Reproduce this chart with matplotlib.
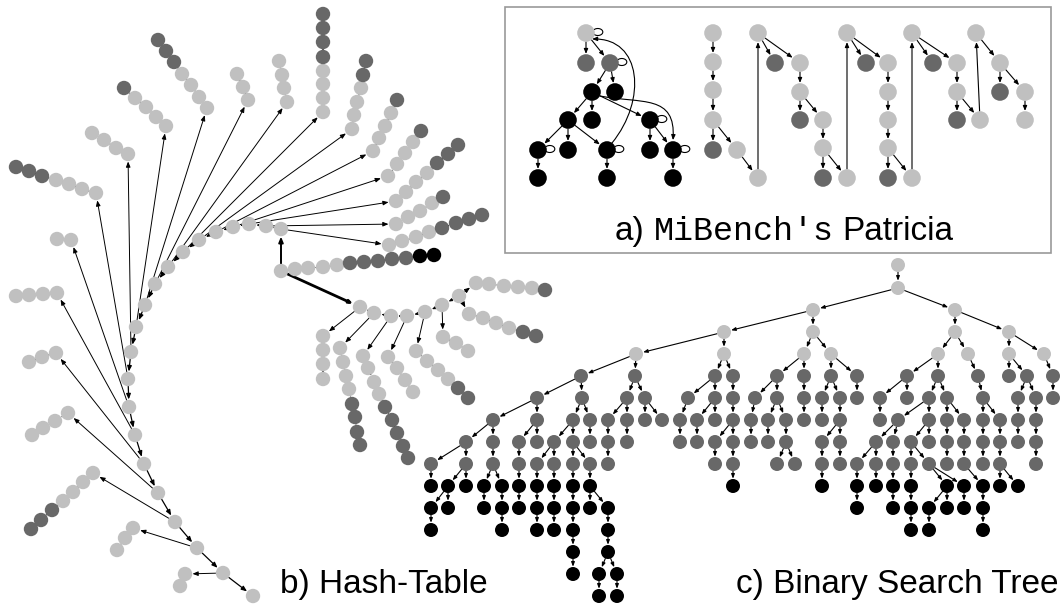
import numpy as np
import matplotlib
matplotlib.use('Agg')
import matplotlib.pyplot as plt
from matplotlib.patches import FancyArrowPatch, Rectangle, Arc
from matplotlib.path import Path

SHADE = {'L': '#c0c0c0', 'D': '#686868', 'K': '#000000'}

# ---------------- b) hash table ----------------
spine_x = [253, 223, 197, 175, 158, 144, 135, 129, 128, 131, 136, 145, 155, 168, 183, 199, 216, 233, 249, 266, 281]
spine_y = [596, 573, 548, 522, 493, 464, 435, 407, 379, 352, 327, 305, 284, 267, 252, 240, 232, 227, 224, 226, 229]

# bucket chains, listed from the node nearest the spine outwards; chain k hangs off spine node k+1
bucket_pts = [
    [(185, 574), (180, 586)],
    [(133, 528), (125, 538), (117, 550)],
    [(93, 473), (83, 482), (73, 492), (63, 501), (52, 510), (41, 520), (31, 529)],
    [(68, 413), (55, 421), (43, 428), (32, 435)],
    [(56, 353), (42, 357), (29, 362)],
    [(57, 293), (43, 294), (29, 295), (16, 296)],
    [(71, 240), (57, 239)],
    [(96, 193), (82, 189), (69, 184), (56, 180), (42, 176), (29, 171), (16, 167)],
    [(128, 154), (116, 148), (104, 140), (92, 133)],
    [(166, 126), (156, 117), (146, 107), (135, 98), (124, 88)],
    [(207, 108), (199, 97), (191, 85), (182, 74), (174, 62), (166, 51), (158, 40)],
    [(248, 100), (243, 87), (237, 74)],
    [(287, 102), (284, 88), (282, 75), (279, 61)],
    [(323, 112), (323, 98), (323, 84), (323, 71), (323, 57), (323, 42), (323, 28), (323, 14)],
    [(352, 129), (354, 115), (357, 102), (361, 88), (363, 75), (366, 61)],
    [(373, 151), (379, 138), (385, 126), (391, 113), (397, 100)],
    [(388, 176), (397, 164), (405, 153), (413, 142), (421, 131)],
    [(396, 201), (406, 192), (416, 182), (427, 173), (437, 163), (448, 154), (458, 145)],
    [(396, 224), (408, 217), (420, 211), (432, 203), (443, 197)],
    [(389, 245), (402, 241), (416, 237), (429, 232), (442, 228), (456, 223), (469, 219), (482, 215)],
]
bucket_shades = ['LL', 'LLL', 'LLLLDDD', 'LLLL', 'LLL', 'LLLL', 'LL', 'LLLLDDD', 'LLLL', 'LLLLD',
                 'LLLLDDD', 'LLL', 'LLLL', 'LLLLDDDD', 'LLLLDD', 'LLLLD', 'LLLLD', 'LLLLDDD', 'LLLLD',
                 'LLLLDDDD']

hub = (281, 271)
hub_chain = [(295, 269), (308, 268), (323, 267), (337, 265), (350, 263), (364, 262), (378, 261),
             (392, 259), (406, 258), (420, 256), (434, 255)]
hub_shades = 'LLLLDDDDDKK'

sub_x = [360, 374, 391, 407, 425, 442, 459]
sub_y = [307, 313, 316, 316, 312, 305, 296]
sub_attach = [0, 1, 2, 3, 4, 5, 6, 6]
sub_pts = [
    [(323, 336), (323, 350), (323, 364), (323, 379)],
    [(340, 348), (343, 362), (346, 376), (349, 389), (352, 404), (355, 417), (357, 432), (360, 445)],
    [(363, 356), (368, 368), (374, 382), (379, 394), (385, 407), (392, 420), (397, 433), (403, 446), (408, 458)],
    [(388, 357), (397, 368), (405, 380), (413, 392)],
    [(416, 351), (427, 361), (438, 370), (448, 379), (458, 388), (468, 398)],
    [(443, 337), (456, 343), (468, 351)],
    [(469, 314), (483, 318), (496, 323), (509, 328), (523, 332), (536, 336)],
    [(476, 283), (489, 284), (504, 286), (518, 287), (532, 288), (545, 290)],
]
sub_shades = ['LLLL', 'LLLLDDDD', 'LLLLDDDDD', 'LLLL', 'LLLLDD', 'LLL', 'LLLLDD', 'LLLLLD']

# ---------------- c) binary search tree ----------------
bst_level_y = [265, 288, 310, 332, 354, 376, 398, 420, 442, 464, 486, 508, 530, 552, 574, 596]
bst_level_shade = 'LLLLLDDDDDKKKKKK'
# (x, level, parent x on the level above)
bst_nodes = [
    (898, 0, None),
    (898, 1, 898),
    (813, 2, 898), (955, 2, 898),
    (724, 3, 813), (813, 3, 813), (955, 3, 955), (1009, 3, 955),
    (636, 4, 724), (724, 4, 724), (804, 4, 813), (831, 4, 813), (938, 4, 955), (968, 4, 955),
    (1009, 4, 1009), (1044, 4, 1009),
    (581, 5, 636), (635, 5, 636), (715, 5, 724), (733, 5, 724), (777, 5, 804), (804, 5, 804),
    (831, 5, 831), (857, 5, 831), (907, 5, 938), (938, 5, 938), (978, 5, 968), (1009, 5, 1009),
    (1027, 5, 1009), (1053, 5, 1044),
    (537, 6, 581), (582, 6, 581), (627, 6, 635), (645, 6, 635), (688, 6, 715), (715, 6, 715),
    (733, 6, 733), (755, 6, 777), (777, 6, 777), (804, 6, 804), (822, 6, 831), (840, 6, 831),
    (857, 6, 857), (880, 6, 907), (907, 6, 907), (929, 6, 938), (947, 6, 938), (983, 6, 978),
    (1018, 6, 1027), (1036, 6, 1027), (1053, 6, 1053),
    (493, 7, 537), (537, 7, 537), (573, 7, 582), (590, 7, 582), (608, 7, 627), (627, 7, 627),
    (645, 7, 645), (662, 7, 645), (680, 7, 688), (697, 7, 715), (715, 7, 715), (733, 7, 733),
    (751, 7, 755), (768, 7, 777), (786, 7, 777), (804, 7, 804), (822, 7, 822), (840, 7, 840),
    (880, 7, 880), (898, 7, 929), (929, 7, 929), (947, 7, 947), (964, 7, 947), (983, 7, 983),
    (1000, 7, 983), (1018, 7, 1018), (1036, 7, 1036),
    (466, 8, 493), (493, 8, 493), (519, 8, 537), (537, 8, 537), (554, 8, 573), (573, 8, 573),
    (590, 8, 590), (608, 8, 608), (627, 8, 627), (680, 8, 680), (697, 8, 697), (715, 8, 733),
    (733, 8, 733), (751, 8, 751), (768, 8, 768), (786, 8, 786), (822, 8, 840), (840, 8, 840),
    (876, 8, 898), (893, 8, 898), (911, 8, 929), (929, 8, 929), (947, 8, 947), (964, 8, 964),
    (983, 8, 983), (1000, 8, 1000), (1018, 8, 1018), (1036, 8, 1036),
    (431, 9, 466), (466, 9, 466), (493, 9, 493), (519, 9, 519), (537, 9, 554), (554, 9, 554),
    (573, 9, 573), (590, 9, 573), (608, 9, 608), (715, 9, 715), (733, 9, 733), (777, 9, 786),
    (795, 9, 786), (822, 9, 822), (840, 9, 840), (857, 9, 876), (876, 9, 876), (893, 9, 893),
    (911, 9, 911), (929, 9, 911), (947, 9, 947), (964, 9, 964), (983, 9, 983), (1000, 9, 1000),
    (1036, 9, 1036),
    (431, 10, 431), (448, 10, 466), (466, 10, 466), (484, 10, 493), (502, 10, 493), (519, 10, 519),
    (537, 10, 537), (554, 10, 554), (573, 10, 573), (590, 10, 590), (733, 10, 733), (822, 10, 822),
    (857, 10, 857), (876, 10, 876), (893, 10, 893), (911, 10, 911), (947, 10, 929), (964, 10, 929),
    (983, 10, 964), (1000, 10, 1000), (1018, 10, 1000),
    (431, 11, 448), (448, 11, 448), (484, 11, 484), (502, 11, 502), (519, 11, 519), (537, 11, 537),
    (554, 11, 554), (573, 11, 573), (590, 11, 590), (608, 11, 590), (857, 11, 857), (893, 11, 893),
    (911, 11, 911), (929, 11, 947), (947, 11, 947), (964, 11, 964), (983, 11, 983),
    (431, 12, 431), (502, 12, 502), (537, 12, 537), (554, 12, 554), (573, 12, 573), (608, 12, 608),
    (911, 12, 911), (929, 12, 929), (983, 12, 983),
    (573, 13, 573), (608, 13, 608),
    (573, 14, 573), (599, 14, 608), (617, 14, 608),
    (599, 15, 599), (617, 15, 617),
]

# ---------------- a) MiBench's Patricia ----------------
pat_x = [586, 586, 610, 592, 615, 568, 592, 650, 538, 568, 607, 650, 673, 538, 607, 673,
         713, 713, 713, 713, 713, 737,
         758, 758, 775, 800, 800, 800, 823, 823, 823, 847, 847,
         866, 888, 888, 888, 888, 888, 912, 912,
         933, 957, 957, 957, 980, 976, 1000, 1000, 1025, 1025]
pat_y = [33, 63, 63, 92, 92, 120, 120, 120, 150, 150, 150, 150, 150, 178, 178, 178,
         33, 62, 90, 120, 150, 150,
         178, 33, 63, 63, 92, 120, 120, 148, 178, 178, 33,
         63, 63, 92, 120, 148, 178, 178, 33,
         63, 63, 92, 120, 120, 33, 63, 92, 92, 120]
pat_shade = 'LDDKKKKKKKKKKKKK' + 'LLLLDL' + 'LLDLLDLLDLL' + 'DLLLLDLL' + 'DLLDLLLDLL'
pat_edges = [(0, 1), (0, 2), (2, 3), (2, 4), (3, 5), (3, 6), (3, 7), (5, 8), (5, 9), (5, 10),
             (7, 11), (7, 12), (8, 13), (10, 14), (12, 15),
             (16, 17), (17, 18), (18, 19), (19, 20), (19, 21), (21, 22), (22, 23),
             (23, 24), (23, 25), (25, 26), (26, 27), (26, 28), (28, 29), (29, 30), (29, 31), (31, 32),
             (32, 33), (32, 34), (34, 35), (35, 36), (36, 37), (37, 38), (37, 39), (39, 40),
             (40, 41), (40, 42), (42, 43), (43, 44), (43, 45), (45, 46), (46, 47), (47, 48),
             (47, 49), (49, 50)]
pat_curved = [(10, 0), (3, 12)]
pat_loops = [0, 2, 7, 8, 10, 12]


def edge(ax, p, q, r, lw=0.7, head=True, hs=1.0):
    p = np.asarray(p, float)
    q = np.asarray(q, float)
    d = q - p
    u = d / np.hypot(*d)
    a, b = p + u * r, q - u * (r + 0.3)
    style = '-|>,head_length=%.2f,head_width=%.2f' % (0.32 * hs, 0.13 * hs) if head else '-'
    ax.add_patch(FancyArrowPatch(a, b, arrowstyle=style, mutation_scale=10, lw=lw,
                                 color='black', shrinkA=0, shrinkB=0, zorder=2))


def nodes(ax, pts, shades, d):
    pts = np.asarray(pts, float)
    ax.scatter(pts[:, 0], pts[:, 1], s=(d * 0.72) ** 2, c=[SHADE[s] for s in shades],
               edgecolors='none', zorder=3)


fig = plt.figure(figsize=(10.64, 6.06), dpi=100)
ax = fig.add_axes([0, 0, 1, 1])
ax.set_xlim(0, 1064)
ax.set_ylim(606, 0)
ax.axis('off')

# hash table
R1 = 7.2
spine = list(zip(spine_x, spine_y))
for i in range(len(spine) - 1):
    edge(ax, spine[i + 1], spine[i], R1, lw=0.9)
all_pts, all_sh = list(spine), 'L' * len(spine)
for k, (ch, sh) in enumerate(zip(bucket_pts, bucket_shades)):
    edge(ax, spine[k + 1], ch[0], R1)
    for a, b in zip(ch[:-1], ch[1:]):
        edge(ax, a, b, R1, hs=0.6)
    all_pts += ch
    all_sh += sh
edge(ax, hub, spine[-1], R1, lw=1.4)
edge(ax, hub, hub_chain[0], R1)
for a, b in zip(hub_chain[:-1], hub_chain[1:]):
    edge(ax, a, b, R1, hs=0.6)
all_pts += [hub] + hub_chain
all_sh += 'L' + hub_shades
sub = list(zip(sub_x, sub_y))
edge(ax, hub, sub[0], R1, lw=2.0, hs=0.6)
for i in range(len(sub) - 1):
    edge(ax, sub[i + 1], sub[i], R1, hs=0.6)
for k, ch, sh in zip(sub_attach, sub_pts, sub_shades):
    edge(ax, sub[k], ch[0], R1)
    for a, b in zip(ch[:-1], ch[1:]):
        edge(ax, a, b, R1, hs=0.6)
    all_pts += ch
    all_sh += sh
all_pts += sub
all_sh += 'L' * len(sub)
nodes(ax, all_pts, all_sh, 2 * R1)

# binary search tree
R2 = 7.0
pos = {(x, lv): (x, bst_level_y[lv]) for x, lv, _ in bst_nodes}
for x, lv, px in bst_nodes:
    if px is not None:
        edge(ax, pos[(px, lv - 1)], pos[(x, lv)], R2, lw=0.8, hs=0.8)
nodes(ax, [pos[(x, lv)] for x, lv, _ in bst_nodes], [bst_level_shade[lv] for _, lv, _ in bst_nodes], 2 * R2)

# patricia inset
ax.add_patch(Rectangle((505, 7), 546, 246, fill=False, edgecolor='#999999', lw=1.2, zorder=1))
R3 = 8.8
pp = list(zip(pat_x, pat_y))
for a, b in pat_edges:
    edge(ax, pp[a], pp[b], R3, lw=0.8, hs=0.9)
for a, b in pat_curved:
    (x0, y0), (x1, y1) = pp[a], pp[b]
    if y1 < y0:
        verts = [(x0 + 5, y0 - 7), (x0 + 40, y0 - 50), (x0 + 35, y1 + 5), (x1 + 6, y1 + 6)]
    else:
        verts = [(x0 + 8, y0 + 4), (x0 + 50, y0 + 12), (x1 + 3, y0 + 2), (x1, y1 - R3 - 1)]
    path = Path(verts, [Path.MOVETO, Path.CURVE4, Path.CURVE4, Path.CURVE4])
    ax.add_patch(FancyArrowPatch(path=path, arrowstyle='-|>,head_length=0.3,head_width=0.12',
                                 mutation_scale=10, lw=0.8, color='black', zorder=2))
for i in pat_loops:
    x, y = pp[i]
    ax.add_patch(Arc((x + R3 + 3, y - 1), 10, 7, theta1=-150, theta2=150, lw=0.8, color='black', zorder=2))
nodes(ax, pp, pat_shade, 2 * R3)

# captions
fs = 24
ax.text(280, 593, 'b) Hash-Table', family='Liberation Sans', size=fs, va='baseline', ha='left')
ax.text(1058, 593, 'c) Binary Search Tree', family='Liberation Sans', size=fs, va='baseline', ha='right')

renderer = fig.canvas.get_renderer()


def width(s, fam):
    t = ax.text(0, 0, s, family=fam, size=fs)
    w = t.get_window_extent(renderer=renderer).width
    t.remove()
    return w


space = width('a a', 'Liberation Sans') - width('aa', 'Liberation Sans')
parts = [('a)', 'Liberation Sans', space), ("MiBench's", 'Liberation Mono', space), ('Patricia', 'Liberation Sans', 0)]
total = sum(width(s, f) + g for s, f, g in parts)
x = 784 - total / 2
for s, f, g in parts:
    ax.text(x, 240, s, family=f, size=fs, va='baseline', ha='left')
    x += width(s, f) + g

fig.savefig('out.png', dpi=100)
